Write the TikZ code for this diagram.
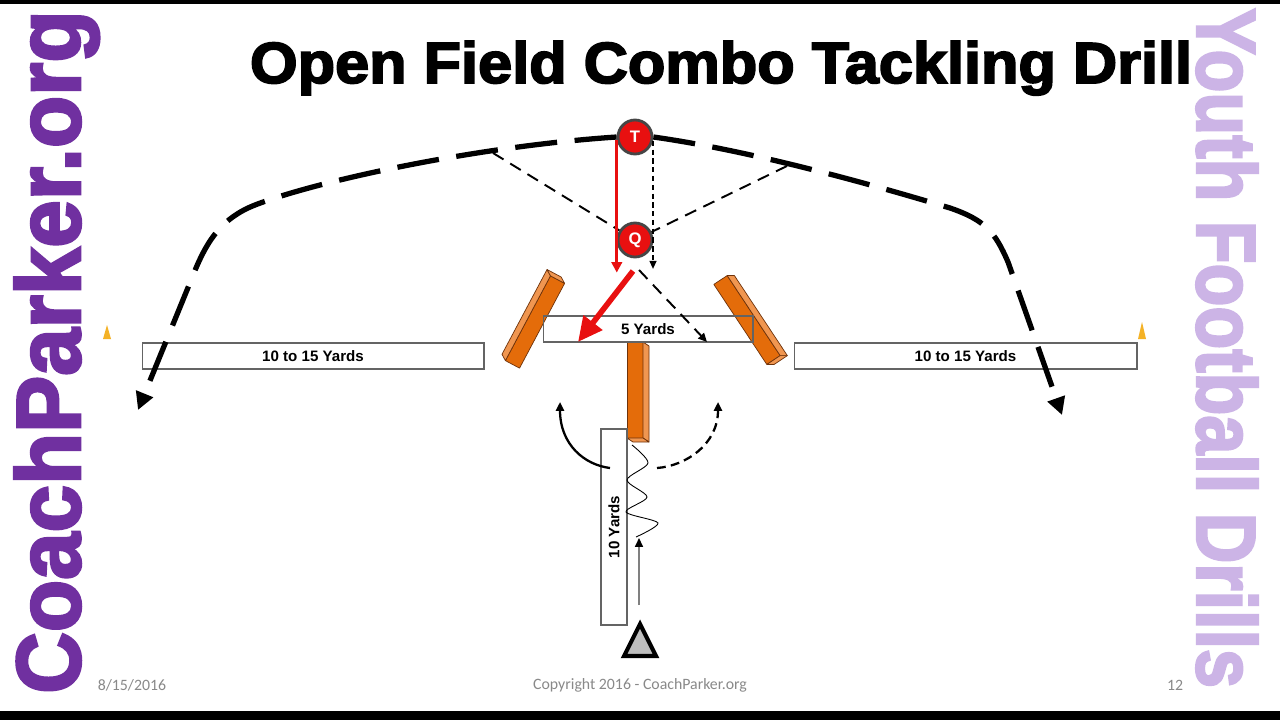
\documentclass[tikz,border=0pt]{standalone}
\usepackage{fontspec}
\setmainfont{Liberation Sans}
\newfontfamily\heavyfont{Liberation Sans}[BoldFeatures={FakeBold=3}]
\newfontfamily\footfont{Carlito}
\usepackage{graphicx}
\usepackage{tikz}
\usetikzlibrary{arrows.meta, positioning, calc}

\definecolor{CoachPurple}{RGB}{112,48,160}
\definecolor{DrillLilac}{RGB}{204,180,230}
\definecolor{PlayerRed}{RGB}{232,16,16}
\definecolor{PlayerRim}{RGB}{70,70,70}
\definecolor{BagOrange}{RGB}{228,108,10}
\definecolor{BagLight}{RGB}{240,150,80}
\definecolor{BagEdge}{RGB}{110,50,10}
\definecolor{BoxGray}{RGB}{100,100,100}
\definecolor{FootGray}{RGB}{137,137,137}
\definecolor{ConeGold}{RGB}{244,178,38}
\definecolor{CarrierGray}{RGB}{190,190,190}

\begin{document}
\begin{tikzpicture}[
  x=0.02cm, y=-0.02cm,
  >=Stealth,
  player/.style={circle, draw=PlayerRim, line width=1.6pt, fill=PlayerRed, text=white,
    minimum size=0.68cm, inner sep=0pt, font=\bfseries\fontsize{9.5}{10}\selectfont},
  yardbox/.style={draw=BoxGray, line width=0.6pt, inner sep=0pt, outer sep=0pt,
    font=\bfseries\fontsize{8.6}{10}\selectfont},
  bigroute/.style={line width=3pt, dash pattern=on 24pt off 10pt,
    -{Triangle[length=10pt, width=10pt]}},
  cutroute/.style={line width=1.1pt, dash pattern=on 7pt off 4.5pt},
  readroute/.style={line width=0.6pt, dash pattern=on 3pt off 2pt,
    -{Triangle[length=4.5pt, width=4pt]}},
  redroute/.style={PlayerRed, line width=1.7pt, -{Triangle[length=6pt, width=6pt]}},
  tackleroute/.style={PlayerRed, line width=3.2pt, -{Triangle[length=14pt, width=13pt]}},
  spinroute/.style={line width=1.3pt, -{Triangle[length=5pt, width=4.5pt]}},
  bagfront/.style={fill=BagOrange, draw=BagEdge, line width=0.4pt, line join=round},
  bagside/.style={fill=BagLight, draw=BagEdge, line width=0.4pt, line join=round},
  footnote/.style={font=\footfont\fontsize{9}{10}\selectfont, text=FootGray},
]

\useasboundingbox (0,0) rectangle (1280,720);
\fill[white] (0,0) rectangle (1280,720);
\fill[black] (0,0) rectangle (1280,4);
\fill[black] (0,711) rectangle (1280,720);

% --- Side banners and title ---
\node[rotate=90, anchor=base, inner sep=0pt, text=CoachPurple] (site) at (80,352)
  {\scalebox{0.94}[1]{\heavyfont\bfseries\fontsize{51.7}{52}\selectfont CoachParker.org}};
\node[rotate=-90, anchor=base, inner sep=0pt, text=DrillLilac] (series) at (1197,348)
  {\scalebox{0.836}[1]{\heavyfont\bfseries\fontsize{47.7}{48}\selectfont Youth Football Drills}};
\node[anchor=base, inner sep=0pt] (title) at (721,83)
  {\scalebox{1.057}[1]{\heavyfont\bfseries\fontsize{33}{36}\selectfont Open Field Combo Tackling Drill}};

% Cones
\fill[ConeGold] (107,325) -- (111,339) -- (103,339) -- cycle;
\fill[ConeGold] (1142,322) -- (1146,339) -- (1138,339) -- cycle;

% --- Bags ---
\foreach \bx/\by/\bang in {535/322/152, 747/320/33.5, 635/390/0}{
  \begin{scope}[shift={(\bx,\by)}, rotate=\bang]
    \draw[bagfront] (-8,-48) rectangle (8,48);
    \draw[bagside] (8,-48) -- (14,-44) -- (14,52) -- (8,48) -- cycle;
    \draw[bagside] (-8,48) -- (8,48) -- (14,52) -- (-2,52) -- cycle;
  \end{scope}
}

% --- Yard boxes ---
\node[yardbox, minimum width=6.84cm, minimum height=0.52cm] (leftyards) at (313,356) {10 to 15 Yards};
\node[yardbox, minimum width=6.86cm, minimum height=0.52cm] (rightyards) at (965.5,356) {10 to 15 Yards};
\node[yardbox, minimum width=4.2cm, minimum height=0.52cm] (fiveyards) at (648,329) {5 Yards};
\node[yardbox, rotate=90, minimum width=3.92cm, minimum height=0.52cm] (tenyards) at (614,527) {10 Yards};

% --- Players ---
\node[player] (T) at (635,137) {T};
\node[player] (Q) at (635,240) {Q};

% Pursuit routes
\coordinate (lcut) at (493,153);
\coordinate (rcut) at (787,166);
\coordinate (ltip) at (138,410);
\coordinate (rtip) at (1062,415);
\draw[bigroute] (T.west) .. controls (480,146) and (320,180) .. (255,205)
  .. controls (222,218) and (208,240) .. (196,268) -- (ltip);
\draw[bigroute] (T.east) .. controls (760,152) and (890,190) .. (950,208)
  .. controls (985,220) and (995,232) .. (1008,262) -- (rtip);
\draw[cutroute] (lcut) -- (Q);
\draw[cutroute] (rcut) -- (Q);
\draw[readroute] (T.-12) -- ++(0,128);
\coordinate (dropstart) at (639,270);
\coordinate (dropend) at (707,342);
\draw[cutroute, -{Triangle[length=5pt, width=4.5pt]}] (dropstart) -- (dropend);
\draw[redroute] (T.188) -- ++(0,133);
\coordinate (tacklestart) at (633,271);
\coordinate (tackleend) at (578,342);
\draw[tackleroute] (tacklestart) -- (tackleend);

% --- Ball carrier ---
\coordinate (spinleft) at (610,468);
\coordinate (spinright) at (657,468);
\draw[spinroute] (spinleft) .. controls (585,465) and (560,445) .. (560,402);
\draw[spinroute, dash pattern=on 5pt off 3pt] (spinright) .. controls (685,466) and (718,445) .. (718,402);
\draw[line width=0.5pt] plot[smooth] coordinates {(632,445) (648,463) (627,480) (647,497) (626,512) (658,523) (636,537)};
\coordinate (carrier) at (640,624);
\draw[line width=2.3pt, fill=CarrierGray, line join=miter] (carrier) -- (656,656) -- (624,656) -- cycle;
\coordinate (runstart) at (639,605);
\coordinate (runend) at (639,538);
\draw[gray, line width=0.8pt, -{Triangle[length=5pt, width=4.5pt, color=black]}] (runstart) -- (runend);

% --- Footer ---
\node[footnote] (date) at (132,685) {8/15/2016};
\node[footnote] (copy) at (640,685) {Copyright 2016 - CoachParker.org};
\node[footnote] (page) at (1175,685) {12};

\end{tikzpicture}
\end{document}
